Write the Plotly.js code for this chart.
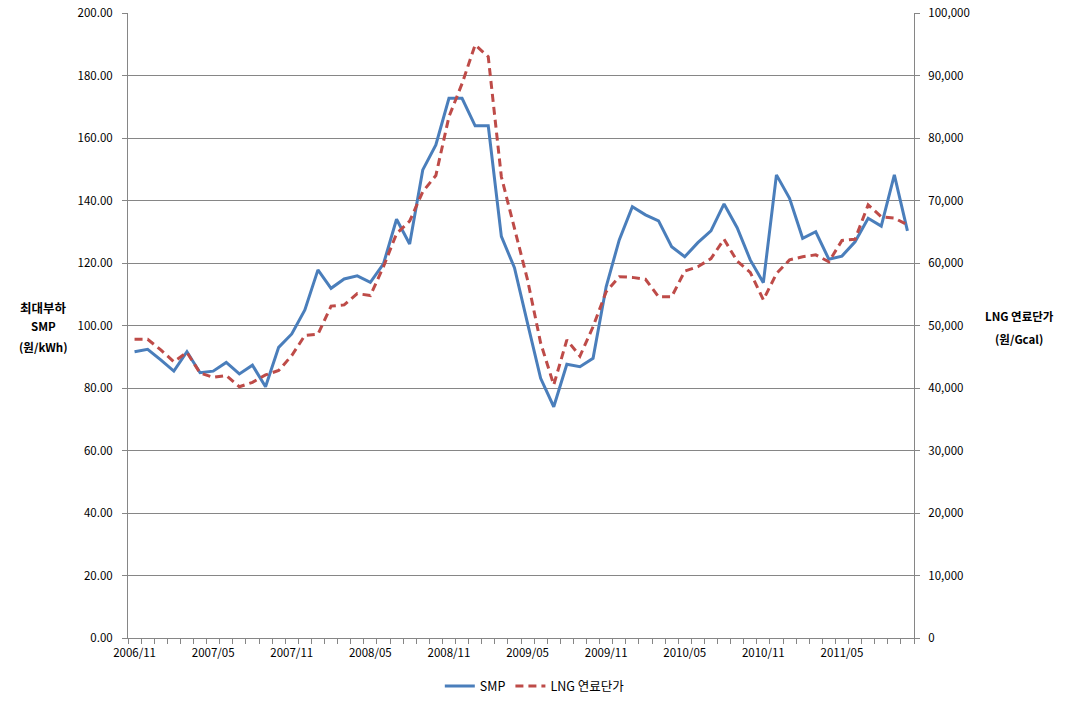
<!DOCTYPE html>
<html>
<head>
<meta charset="utf-8">
<script src="https://cdn.plot.ly/plotly-3.0.1.min.js"></script>
<style>html,body{margin:0;padding:0;background:#fff;}#chart{width:1075px;height:701px;}</style>
</head>
<body>
<div id="chart"></div>
<script>
var categories = [
  "2006/11","2006/12","2007/01","2007/02","2007/03","2007/04","2007/05","2007/06","2007/07","2007/08","2007/09","2007/10",
  "2007/11","2007/12","2008/01","2008/02","2008/03","2008/04","2008/05","2008/06","2008/07","2008/08","2008/09","2008/10",
  "2008/11","2008/12","2009/01","2009/02","2009/03","2009/04","2009/05","2009/06","2009/07","2009/08","2009/09","2009/10",
  "2009/11","2009/12","2010/01","2010/02","2010/03","2010/04","2010/05","2010/06","2010/07","2010/08","2010/09","2010/10",
  "2010/11","2010/12","2011/01","2011/02","2011/03","2011/04","2011/05","2011/06","2011/07","2011/08","2011/09","2011/10"
];
var smp = [
  91.6,92.4,89.0,85.4,91.6,84.9,85.4,88.2,84.5,87.3,80.4,93.0,
  97.3,105.0,117.8,111.9,114.9,115.9,113.8,119.7,134.0,126.1,149.8,157.8,
  172.7,172.7,163.9,163.9,128.5,118.5,100.7,83.1,74.0,87.6,86.8,89.5,
  112.4,127.4,138.0,135.4,133.5,125.2,122.0,126.5,130.3,138.9,131.3,121.0,
  113.7,148.2,140.7,127.9,130.0,121.2,122.2,126.8,134.3,131.8,148.2,130.3
];
var lng = [
  47800,47800,46100,44200,45700,42400,41700,42000,40200,40900,42100,42800,
  45200,48400,48600,53100,53300,55100,54800,59400,64700,66700,71400,74000,
  83400,88700,94900,93000,73800,65700,57300,47200,40500,47700,45100,49800,
  55400,57800,57700,57400,54600,54600,58700,59400,60700,63800,60300,58500,
  54100,58300,60500,61000,61300,60200,63600,63800,69300,67400,67200,66100
];
var seriesNames = ["SMP", "LNG 연료단가"];
var leftTitleLines = ["최대부하", "SMP", "(원/kWh)"];
var rightTitleLines = ["LNG 연료단가", "(원/Gcal)"];

var idx = categories.map(function(_, i){ return i; });
var tickIdx = idx.filter(function(i){ return i % 6 === 0; });
var tickText = tickIdx.map(function(i){ return categories[i]; });

var font = "'Noto Sans CJK KR', 'Noto Sans', sans-serif";

var traces = [
  {x: idx, y: smp, name: seriesNames[0], type: "scatter", mode: "lines",
   line: {color: "#4A7EBB", width: 3}, yaxis: "y", customdata: categories},
  {x: idx, y: lng, name: seriesNames[1], type: "scatter", mode: "lines",
   line: {color: "#BE4B48", width: 3, dash: "8px,5px"}, yaxis: "y2", customdata: categories}
];

// title lines placed in paper coords (plot area: top 13px, bottom 638px of 701)
function py(pix){ return (638 - pix) / 625; }
var leftY = [307, 326, 347];
var rightY = [316, 339];
var annotations = [];
leftTitleLines.forEach(function(t, i){
  annotations.push({xref: "paper", yref: "paper", x: -0.108, y: py(leftY[i]), xanchor: "center", yanchor: "middle",
    text: "<b>" + t + "</b>", showarrow: false, font: {family: font, size: (i === 0 ? 12.5 : 11.5), color: "#000"}});
});
rightTitleLines.forEach(function(t, i){
  annotations.push({xref: "paper", yref: "paper", x: 1.134, y: py(rightY[i]), xanchor: "center", yanchor: "middle",
    text: "<b>" + t + "</b>", showarrow: false, font: {family: font, size: 11.5, color: "#000"}});
});

var layout = {
  width: 1075, height: 701,
  margin: {l: 128, r: 161, t: 13, b: 63, autoexpand: false},
  paper_bgcolor: "#fff", plot_bgcolor: "#fff",
  font: {family: font, size: 11.5, color: "#000"},
  showlegend: true,
  legend: {orientation: "h", xref: "container", yref: "container", x: 0.4975, xanchor: "center", y: 0.021, yanchor: "middle",
           font: {family: font, size: 12.5, color: "#000"}, traceorder: "normal"},
  xaxis: {
    range: [-0.5, categories.length - 0.5], tickmode: "array", tickvals: tickIdx, ticktext: tickText,
    ticks: "", showgrid: false, zeroline: false, showline: true, linecolor: "#868686", linewidth: 1,
    tickfont: {family: font, size: 11.5, color: "#000"}, ticklabelstandoff: 4,
    minor: {tick0: -0.5, dtick: 1, ticks: "outside", ticklen: 5, tickcolor: "#868686", showgrid: false}
  },
  yaxis: {
    range: [0, 200], dtick: 20, tickformat: ".2f", showgrid: true, gridcolor: "#868686", gridwidth: 1,
    zeroline: false, showline: true, linecolor: "#868686", ticks: "outside", ticklen: 5, tickcolor: "#868686",
    tickfont: {family: font, size: 11.5, color: "#000"}, ticklabelstandoff: 7
  },
  yaxis2: {
    range: [0, 100000], dtick: 10000, tickformat: ",", overlaying: "y", side: "right", showgrid: false,
    zeroline: false, showline: true, linecolor: "#868686", ticks: "outside", ticklen: 5, tickcolor: "#868686",
    tickfont: {family: font, size: 11.5, color: "#000"}, ticklabelstandoff: 6
  },
  annotations: annotations
};

Plotly.newPlot("chart", traces, layout, {displayModeBar: false, staticPlot: true});
</script>
</body>
</html>
